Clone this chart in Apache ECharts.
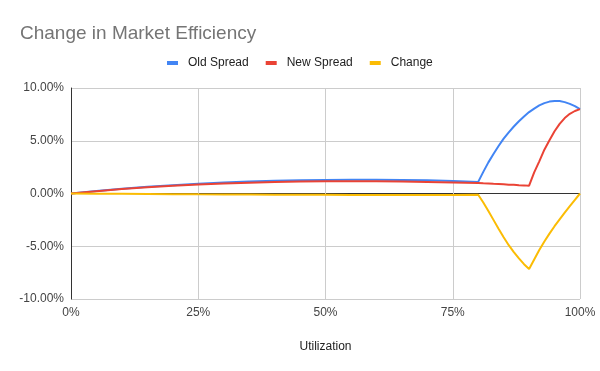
<!DOCTYPE html>
<html><head><meta charset="utf-8">
<script src="https://cdn.jsdelivr.net/npm/echarts@6/dist/echarts.min.js"></script>
<style>html,body{margin:0;padding:0;background:#fff}#c{width:600px;height:371px}</style>
</head><body><div id="c"></div>
<script>
const utilization = [0,5,10,15,20,25,30,35,40,45,50,55,60,65,70,75,80,81,82,83,84,85,86,87,88,89,90,91,92,93,94,95,96,97,98,99,100];
const oldSpread = [0,0.24,0.45,0.63,0.79,0.93,1.04,1.13,1.2,1.25,1.29,1.31,1.31,1.29,1.25,1.19,1.1,2.05,2.95,3.75,4.5,5.2,5.8,6.35,6.85,7.3,7.72,8.05,8.35,8.57,8.71,8.77,8.76,8.66,8.5,8.28,8.0];
const newSpread = [0,0.22,0.42,0.59,0.73,0.85,0.95,1.03,1.09,1.13,1.16,1.17,1.16,1.14,1.1,1.05,1.0,0.97,0.95,0.92,0.9,0.87,0.84,0.82,0.79,0.77,0.74,2.0,3.05,4.15,5.05,5.9,6.6,7.15,7.55,7.82,8.0];
const change = [0,-0.02,-0.03,-0.04,-0.06,-0.08,-0.09,-0.1,-0.11,-0.12,-0.13,-0.14,-0.15,-0.15,-0.15,-0.14,-0.12,-0.85,-1.65,-2.5,-3.35,-4.15,-4.9,-5.55,-6.15,-6.7,-7.15,-6.25,-5.35,-4.55,-3.8,-3.1,-2.45,-1.82,-1.2,-0.6,0];
const xTicks = [0,25,50,75,100];
const yTicks = [-10,-5,0,5,10];

const pairs = arr => utilization.map((u,i)=>[u,arr[i]]);
const font = 'Liberation Sans, Arial, sans-serif';
const chart = echarts.init(document.getElementById('c'), null, {renderer:'canvas'});
chart.setOption({
  animation:false,
  title:{text:'Change in Market Efficiency',left:15,top:19,textStyle:{fontFamily:font,fontSize:19,fontWeight:'normal',color:'#757575'}},
  legend:{top:52,left:162,itemWidth:11,itemHeight:4,itemGap:17,icon:'rect',
    textStyle:{fontFamily:font,fontSize:12,color:'#222',padding:[0,0,0,5]},
    data:['Old Spread','New Spread','Change']},
  grid:{left:71,right:20,top:88,bottom:72},
  xAxis:{type:'value',min:xTicks[0],max:xTicks[xTicks.length-1],interval:25,
    name:'Utilization',nameLocation:'middle',nameGap:42,
    nameTextStyle:{fontFamily:font,fontSize:12,color:'#222'},
    axisLine:{show:false,onZero:false},axisTick:{show:false},
    axisLabel:{fontFamily:font,fontSize:12,color:'#444',margin:8,formatter:v=>v+'%'},
    splitLine:{show:true,lineStyle:{color:'#cccccc',width:1}}},
  yAxis:{type:'value',min:yTicks[0],max:yTicks[yTicks.length-1],interval:5,
    axisLine:{show:true,onZero:false,lineStyle:{color:'#333',width:1}},axisTick:{show:false},
    axisLabel:{fontFamily:font,fontSize:12,color:'#444',margin:7,formatter:v=>v.toFixed(2)+'%'},
    splitLine:{show:true,lineStyle:{color:['#cccccc','#cccccc','#333333','#cccccc','#cccccc'],width:1}}},
  series:[
    {name:'Old Spread',type:'line',data:pairs(oldSpread),showSymbol:false,symbol:'none',lineStyle:{width:2,color:'#4285F4'},itemStyle:{color:'#4285F4'}},
    {name:'New Spread',type:'line',data:pairs(newSpread),showSymbol:false,symbol:'none',lineStyle:{width:2,color:'#EA4335'},itemStyle:{color:'#EA4335'}},
    {name:'Change',type:'line',data:pairs(change),showSymbol:false,symbol:'none',lineStyle:{width:2,color:'#FBBC04'},itemStyle:{color:'#FBBC04'}}
  ]
});
</script></body></html>
